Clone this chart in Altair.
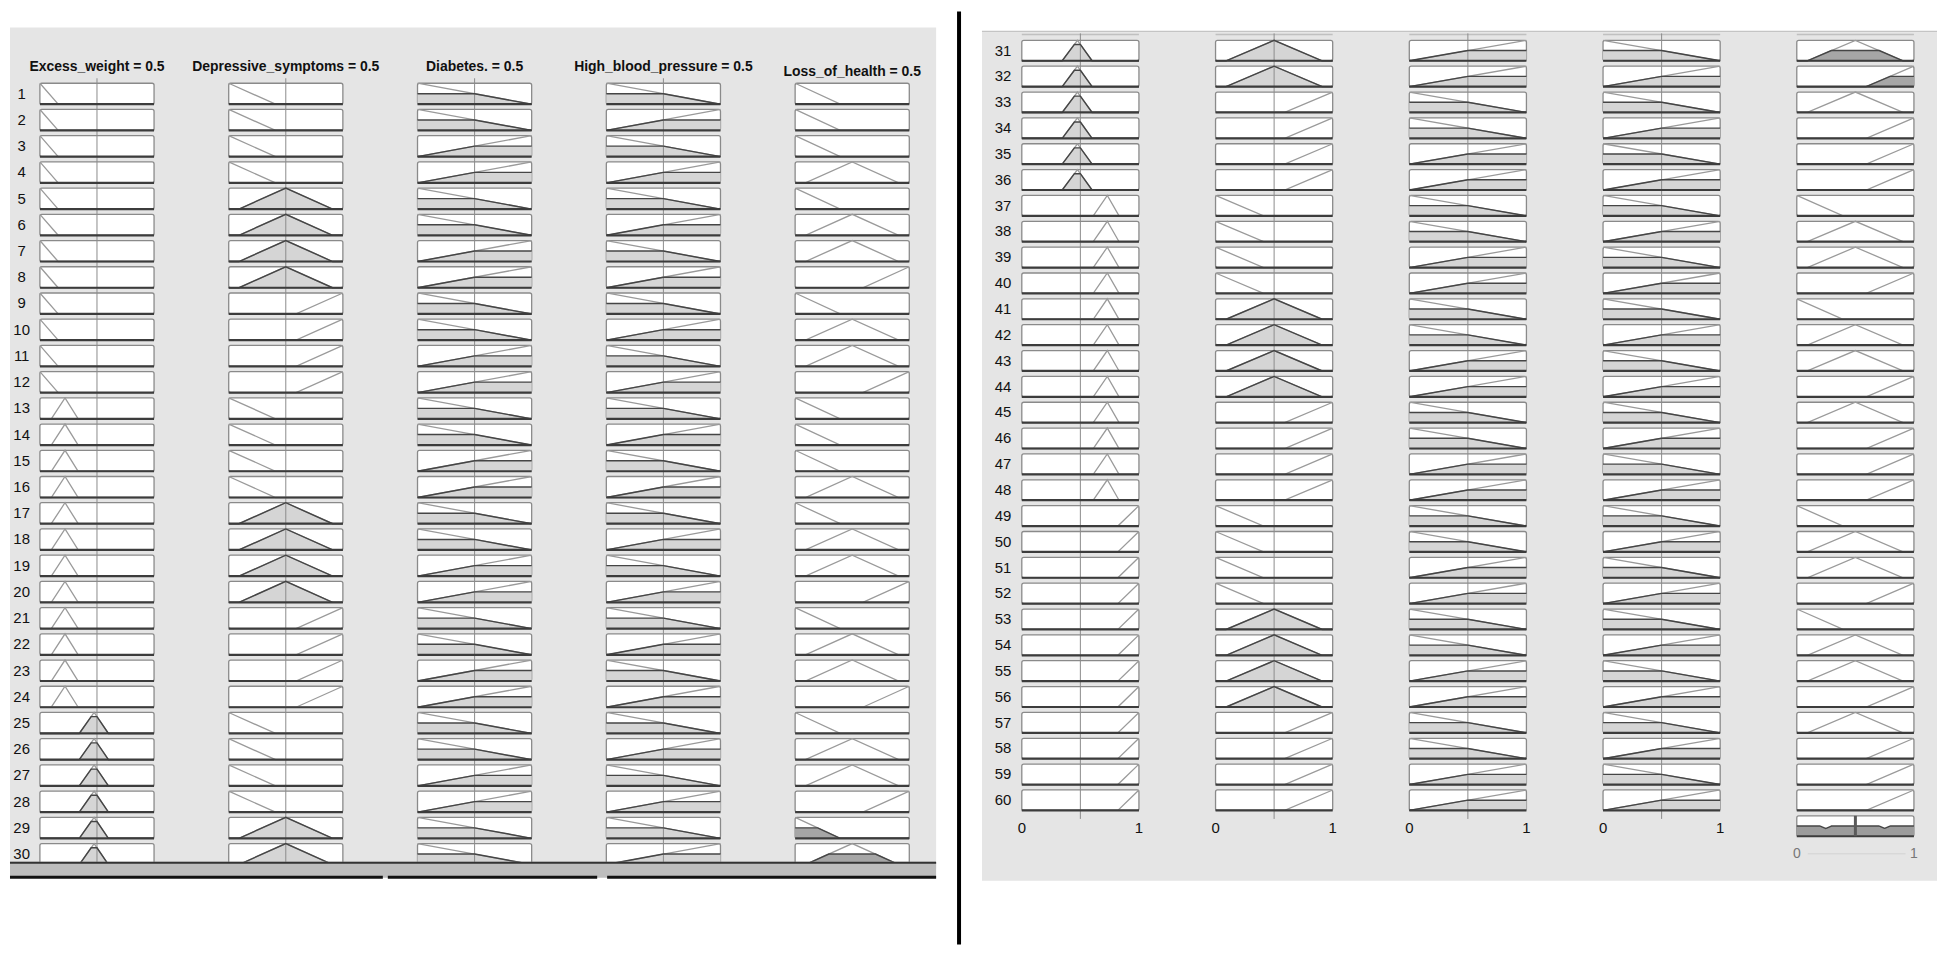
import altair as alt
import numpy as np
import pandas as pd

# ---------------- data ----------------
TITLES = ["Excess_weight = 0.5", "Depressive_symptoms = 0.5", "Diabetes. = 0.5",
          "High_blood_pressure = 0.5", "Loss_of_health = 0.5"]
INPUT_VALUES = [0.5, 0.5, 0.5, 0.5]

# membership functions as breakpoints (x, membership)
EW_MF_X = [[0.0, 0.16, 1.0], [0.0, 0.10, 0.22, 0.335, 1.0], [0.0, 0.345, 0.475, 0.60, 1.0],
           [0.0, 0.61, 0.73, 0.83, 1.0], [0.0, 0.82, 1.0]]
EW_MF_Y = [[1, 0, 0], [0, 0, 1, 0, 0], [0, 0, 1, 0, 0], [0, 0, 1, 0, 0], [0, 0, 1]]
DS_MF_X = [[0.0, 0.41, 1.0], [0.0, 0.09, 0.5, 0.91, 1.0], [0.0, 0.59, 1.0]]
DS_MF_Y = [[1, 0, 0], [0, 0, 1, 0, 0], [0, 0, 1]]
DB_MF_X = [[0.0, 1.0], [0.0, 1.0]]
DB_MF_Y = [[1, 0], [0, 1]]
HBP_MF_X = [[0.0, 1.0], [0.0, 1.0]]
HBP_MF_Y = [[1, 0], [0, 1]]
LH_MF_X = [[0.0, 0.395, 1.0], [0.0, 0.09, 0.5, 0.907, 1.0], [0.0, 0.593, 1.0]]
LH_MF_Y = [[1, 0, 0], [0, 0, 1, 0, 0], [0, 0, 1]]

# rule table (1-based membership function index), rules 1..60
RULE_EW = [1, 1, 1, 1, 1, 1, 1, 1, 1, 1, 1, 1,
           2, 2, 2, 2, 2, 2, 2, 2, 2, 2, 2, 2,
           3, 3, 3, 3, 3, 3, 3, 3, 3, 3, 3, 3,
           4, 4, 4, 4, 4, 4, 4, 4, 4, 4, 4, 4,
           5, 5, 5, 5, 5, 5, 5, 5, 5, 5, 5, 5]
RULE_DS = [1, 1, 1, 1, 2, 2, 2, 2, 3, 3, 3, 3,
           1, 1, 1, 1, 2, 2, 2, 2, 3, 3, 3, 3,
           1, 1, 1, 1, 2, 2, 2, 2, 3, 3, 3, 3,
           1, 1, 1, 1, 2, 2, 2, 2, 3, 3, 3, 3,
           1, 1, 1, 1, 2, 2, 2, 2, 3, 3, 3, 3]
RULE_DB = [1, 1, 2, 2, 1, 1, 2, 2, 1, 1, 2, 2,
           1, 1, 2, 2, 1, 1, 2, 2, 1, 1, 2, 2,
           1, 1, 2, 2, 1, 1, 2, 2, 1, 1, 2, 2,
           1, 1, 2, 2, 1, 1, 2, 2, 1, 1, 2, 2,
           1, 1, 2, 2, 1, 1, 2, 2, 1, 1, 2, 2]
RULE_HBP = [1, 2, 1, 2, 1, 2, 1, 2, 1, 2, 1, 2,
            1, 2, 1, 2, 1, 2, 1, 2, 1, 2, 1, 2,
            1, 2, 1, 2, 1, 2, 1, 2, 1, 2, 1, 2,
            1, 2, 1, 2, 1, 2, 1, 2, 1, 2, 1, 2,
            1, 2, 1, 2, 1, 2, 1, 2, 1, 2, 1, 2]
RULE_LH = [1, 1, 1, 2, 1, 2, 2, 3, 1, 2, 2, 3,
           1, 1, 1, 2, 1, 2, 2, 3, 1, 2, 2, 3,
           1, 2, 2, 3, 1, 2, 2, 3, 2, 3, 3, 3,
           1, 2, 2, 3, 1, 2, 2, 3, 2, 3, 3, 3,
           1, 2, 2, 3, 1, 2, 2, 3, 2, 3, 3, 3]

MF_X = [EW_MF_X, DS_MF_X, DB_MF_X, HBP_MF_X, LH_MF_X]
MF_Y = [EW_MF_Y, DS_MF_Y, DB_MF_Y, HBP_MF_Y, LH_MF_Y]
RULES = [RULE_EW, RULE_DS, RULE_DB, RULE_HBP, RULE_LH]

# ---------------- styling / layout ----------------
FONT = "Liberation Sans, Arial, sans-serif"
PANEL_GRAY = "#e5e5e5"
P = 1.654  # column pitch, in box widths
H = 936

LEFT = dict(rules=list(range(1, 31)), r0=1, hf=0.80, width=929,
            xdom=[-0.262, 7.851], ydom=[-2.738, 32.852])
RIGHT = dict(rules=list(range(31, 61)), r0=31, hf=0.79, width=958,
             xdom=[-0.340, 7.813], ydom=[-1.118, 34.98])


def clip_points(xs, ys, level):
    pts = set(xs)
    for i in range(len(xs) - 1):
        a, b = ys[i] - level, ys[i + 1] - level
        if a * b < 0:
            t = a / (a - b)
            pts.add(xs[i] + t * (xs[i + 1] - xs[i]))
    px = sorted(pts)
    py = [min(float(np.interp(p, xs, ys)), level) for p in px]
    return px, py


def rule_strength(r):
    degs = []
    for c in range(4):
        m = RULES[c][r - 1] - 1
        degs.append(float(np.interp(INPUT_VALUES[c], MF_X[c][m], MF_Y[c][m])))
    return degs, min(degs)


def build_panel(cfg, right):
    r0, hf, xdom, ydom, W = cfg["r0"], cfg["hf"], cfg["xdom"], cfg["ydom"], cfg["width"]
    xs_ = alt.Scale(domain=xdom, nice=False, zero=False)
    ys_ = alt.Scale(domain=ydom, nice=False, zero=False, reverse=True)

    def ex(f):
        return alt.X(f, type="quantitative", scale=xs_, axis=None)

    def ey(f):
        return alt.Y(f, type="quantitative", scale=ys_, axis=None, stack=None)

    box, line, fill, lab = [], [], [], []
    for r in cfg["rules"]:
        base = r - r0
        degs, s = rule_strength(r)
        lab.append(dict(X=-0.16, Y=base + hf / 2, txt=str(r)))
        for c in range(5):
            m = RULES[c][r - 1] - 1
            xs, ys = MF_X[c][m], MF_Y[c][m]
            gid = f"{r}-{c}"
            box.append(dict(X0=c * P, X1=c * P + 1, Y0=base, Y1=base + hf))
            for k, (x, y) in enumerate(zip(xs, ys)):
                line.append(dict(gid=gid, k=k, X=c * P + x, Y=base + (1 - y) * hf))
            level = degs[c] if c < 4 else s
            if level > 0:
                kind = "in" if c < 4 else "out"
                px, py = clip_points(xs, ys, level)
                for k, (x, y) in enumerate(zip(px, py)):
                    fill.append(dict(gid=gid, kind=kind, k=k, X=c * P + x,
                                     Y=base + (1 - y) * hf, Yb=base + hf))
    vtop = -0.19 if not right else -0.27
    vbot = 29.8 if not right else 30.12
    vl = [dict(X=c * P + INPUT_VALUES[c], Ya=vtop, Yb=vbot) for c in range(4)]
    extra_rules = []

    if right:
        # aggregated output
        base = 30
        xg = np.linspace(0, 1, 201)
        agg = np.zeros_like(xg)
        for r in range(1, 61):
            _, s = rule_strength(r)
            if s > 0:
                m = RULE_LH[r - 1] - 1
                agg = np.maximum(agg, np.minimum(np.interp(xg, LH_MF_X[m], LH_MF_Y[m]), s))
        cen = float((xg * agg).sum() / agg.sum())
        box.append(dict(X0=4 * P, X1=4 * P + 1, Y0=base, Y1=base + hf))
        for k, (x, y) in enumerate(zip(xg, agg)):
            fill.append(dict(gid="agg", kind="agg", k=k, X=4 * P + float(x),
                             Y=base + (1 - float(y)) * hf, Yb=base + hf))
        extra_rules.append(dict(X=4 * P + cen, Ya=base, Yb=base + hf))

    box_df, line_df, fill_df = pd.DataFrame(box), pd.DataFrame(line), pd.DataFrame(fill)
    dummy = alt.Data(values=[{}])

    layers = []
    if right:
        layers.append(alt.Chart(dummy).mark_rect(color=PANEL_GRAY).encode(
            x=alt.value(0), x2=alt.value(W), y=alt.value(21), y2=alt.value(872)))
        layers.append(alt.Chart(dummy).mark_rule(color="#c4c4c4", strokeWidth=1.5).encode(
            x=alt.value(0), x2=alt.value(W), y=alt.value(20)))
        top_df = pd.DataFrame([dict(X0=c * P, X1=c * P + 1, Y=-0.23) for c in range(5)])
        layers.append(alt.Chart(top_df).mark_rule(color="#c0c0c0", strokeWidth=1.5).encode(
            x=ex("X0"), x2=alt.X2("X1"), y=ey("Y")))
    else:
        layers.append(alt.Chart(dummy).mark_rect(color=PANEL_GRAY).encode(
            x=alt.value(0), x2=alt.value(W), y=alt.value(16), y2=alt.value(860)))

    layers.append(alt.Chart(box_df).mark_rect(fill="white", stroke="#8a8a8a", strokeWidth=1.3,
                                               cornerRadius=2).encode(
        x=ex("X0"), x2=alt.X2("X1"), y=ey("Y0"), y2=alt.Y2("Y1")))
    layers.append(alt.Chart(fill_df).mark_area(opacity=1).encode(
        x=ex("X"), y=ey("Y"), y2=alt.Y2("Yb"), detail="gid:N",
        color=alt.Color("kind:N", scale=alt.Scale(domain=["in", "out", "agg"],
                                                   range=["#d5d5d5", "#a6a6a6", "#9c9c9c"]),
                        legend=None)))
    layers.append(alt.Chart(pd.DataFrame(vl)).mark_rule(color="#8c8c8c", strokeWidth=1).encode(
        x=ex("X"), y=ey("Ya"), y2=alt.Y2("Yb")))
    layers.append(alt.Chart(line_df).mark_line(color="#9a9a9a", strokeWidth=1.3).encode(
        x=ex("X"), y=ey("Y"), detail="gid:N", order=alt.Order("k:Q")))
    layers.append(alt.Chart(fill_df).mark_line(color="#454545", strokeWidth=1.4).encode(
        x=ex("X"), y=ey("Y"), detail="gid:N", order=alt.Order("k:Q")))
    layers.append(alt.Chart(box_df).mark_rule(color="#3c3c3c", strokeWidth=2.2).encode(
        x=ex("X0"), x2=alt.X2("X1"), y=ey("Y1")))
    layers.append(alt.Chart(pd.DataFrame(lab)).mark_text(font=FONT, fontSize=15, color="#111",
                                                          align="center", baseline="middle").encode(
        x=ex("X"), y=ey("Y"), text="txt:N"))

    if right:
        layers.append(alt.Chart(pd.DataFrame(extra_rules)).mark_rule(color="#5a5a5a", strokeWidth=3).encode(
            x=ex("X"), y=ey("Ya"), y2=alt.Y2("Yb")))
        ticks = []
        for c in range(4):
            ticks.append(dict(X=c * P, Y=30.49, txt="0"))
            ticks.append(dict(X=c * P + 1, Y=30.49, txt="1"))
        layers.append(alt.Chart(pd.DataFrame(ticks)).mark_text(font=FONT, fontSize=15, color="#111",
                                                                 align="center", baseline="middle").encode(
            x=ex("X"), y=ey("Y"), text="txt:N"))
        oax = pd.DataFrame([dict(X0=4 * P + 0.094, X1=4 * P + 0.928, Y=31.47)])
        layers.append(alt.Chart(oax).mark_rule(color="#d2d2d2", strokeWidth=1).encode(
            x=ex("X0"), x2=alt.X2("X1"), y=ey("Y")))
        oticks = pd.DataFrame([dict(X=4 * P, Y=31.47, txt="0"), dict(X=4 * P + 1, Y=31.47, txt="1")])
        layers.append(alt.Chart(oticks).mark_text(font=FONT, fontSize=14, color="#777",
                                                   align="center", baseline="middle").encode(
            x=ex("X"), y=ey("Y"), text="txt:N"))
    else:
        tt = [dict(X=c * P + 0.5, Y=(-0.635 if c < 4 else -0.437), txt=TITLES[c]) for c in range(5)]
        layers.append(alt.Chart(pd.DataFrame(tt)).mark_text(font=FONT, fontSize=14, fontWeight="bold",
                                                             color="#111", align="center",
                                                             baseline="middle").encode(
            x=ex("X"), y=ey("Y"), text="txt:N"))
        # bottom bar
        layers.append(alt.Chart(dummy).mark_rect(color="#bdbdbd").encode(
            x=alt.value(0), x2=alt.value(W), y=alt.value(853), y2=alt.value(869)))
        layers.append(alt.Chart(dummy).mark_rule(color="#333333", strokeWidth=2).encode(
            x=alt.value(0), x2=alt.value(W), y=alt.value(854)))
        for a, b in [(0, 374), (379, 589), (599, W)]:
            layers.append(alt.Chart(dummy).mark_rule(color="#111111", strokeWidth=3).encode(
                x=alt.value(a), x2=alt.value(b), y=alt.value(868.5)))

    return alt.layer(*layers).properties(width=W, height=H)


left = build_panel(LEFT, False)
right = build_panel(RIGHT, True)
mid = alt.Chart(alt.Data(values=[{}])).mark_rule(color="#000000", strokeWidth=4).encode(
    x=alt.value(21), y=alt.value(0), y2=alt.value(H)).properties(width=43, height=H)

chart = alt.hconcat(left, mid, right, spacing=0).properties(padding=0).configure_view(stroke=None)
chart.save("out.html", embed_options={"renderer": "svg", "actions": False})
